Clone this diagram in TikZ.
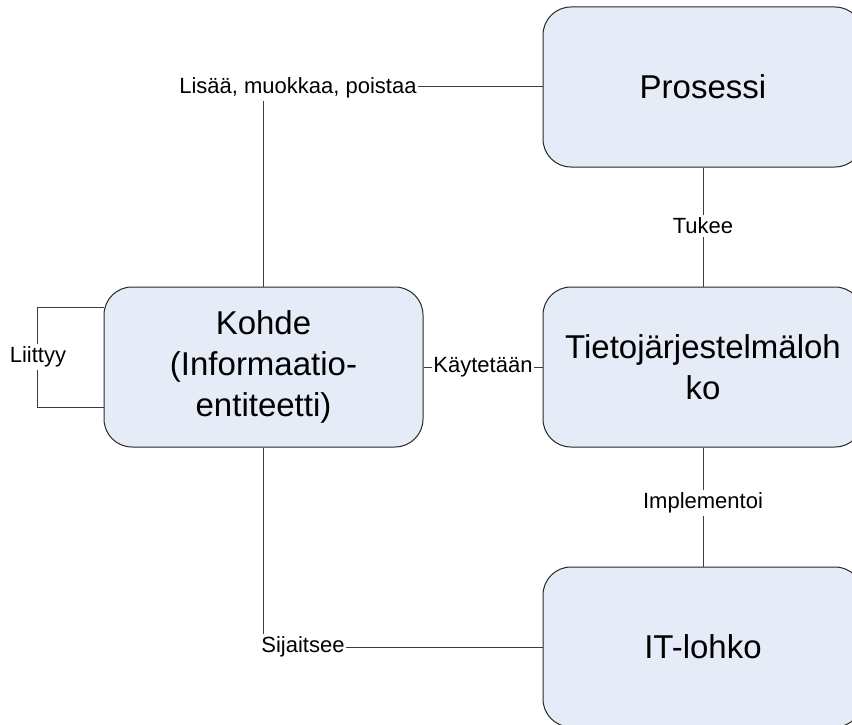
\documentclass[tikz,border=0pt]{standalone}
\usepackage{fontspec}
\setmainfont{Liberation Sans}
\usetikzlibrary{calc}
\definecolor{boxfill}{RGB}{230,236,247}
\definecolor{boxline}{RGB}{40,40,40}
\definecolor{linkcol}{RGB}{60,60,60}
\begin{document}
\begin{tikzpicture}[x=1pt,y=-1pt,
  entity/.style={draw=boxline, fill=boxfill, rounded corners=28pt,
    minimum width=320pt, minimum height=160pt, align=center,
    font=\fontsize{33}{41}\selectfont, line width=1pt, inner sep=0pt},
  link/.style={draw=linkcol, line width=1pt},
  tag/.style={fill=white, inner xsep=1pt, inner ysep=3pt,
    font=\fontsize{22}{26}\selectfont}]
\clip (0,0) rectangle (852,725);
\fill[white] (0,0) rectangle (852,725);

% entities
\node[entity] (p)  at (703,87)    {Prosessi};
\node[entity] (ts) at (703,367)   {Tietojärjestelmäloh\\ko};
\node[entity] (it) at (703,647)   {IT-lohko};
\node[entity, minimum width=319pt] (k) at (263.5,367) {Kohde\\(Informaatio-\\entiteetti)};

% relations
\draw[link] (k.north) |- (p.west);
\node[tag] (lmp) at (298,88) {Lisää, muokkaa, poistaa};

\draw[link] (p.south) -- (ts.north);
\node[tag] (tu) at (703,226) {Tukee};

\draw[link] (ts.south) -- (it.north);
\node[tag] (im) at (703,503) {Implementoi};

\draw[link] (k.east) -- (ts.west);
\node[tag] (ka) at (483,367) {Käytetään};

\draw[link] (k.south) |- (it.west);
\node[tag] (si) at (303,647) {Sijaitsee};

% self relation
\coordinate (l1) at ($(k.west)+(0,-60)$);
\coordinate (l2) at ($(k.west)+(0,40)$);
\draw[link] (l1) -- ++(-66,0) |- (l2);
\node[tag] (li) at (38,357) {Liittyy};
\end{tikzpicture}
\end{document}
